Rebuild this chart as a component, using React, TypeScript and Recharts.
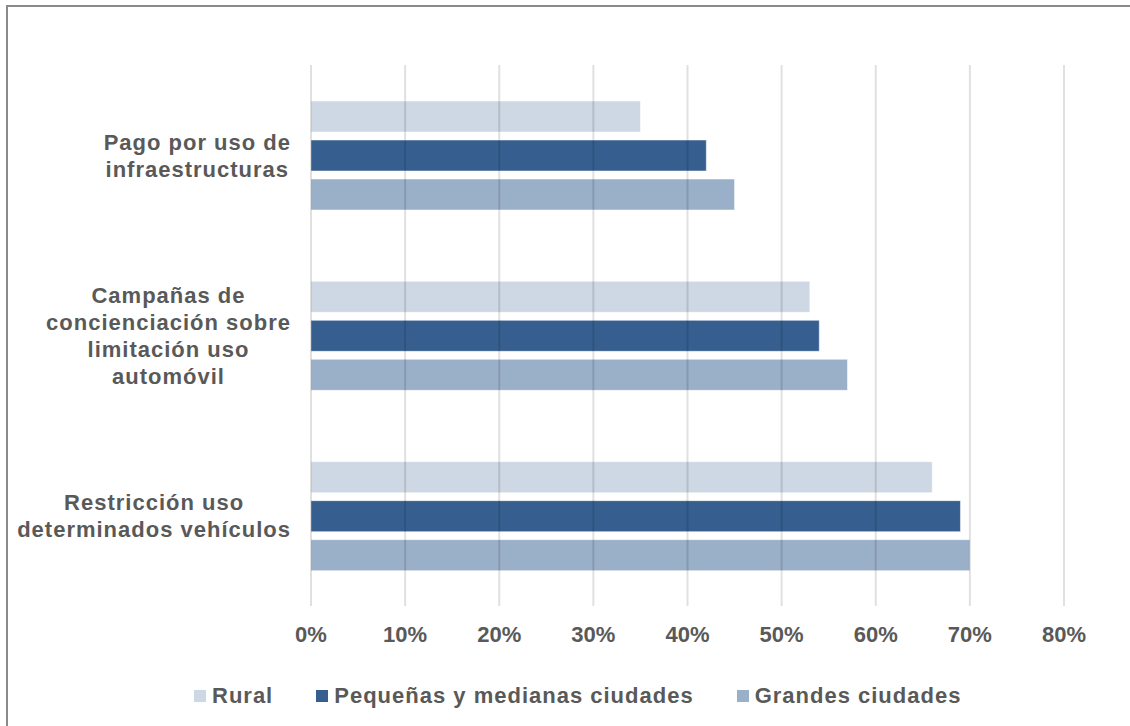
import { BarChart, Bar, XAxis, YAxis, CartesianGrid, Legend } from 'recharts'

// ─── data ─────────────────────────────────────────────────────────────────

const CATEGORIES = [
  ['Pago por uso de', 'infraestructuras'],
  ['Campañas de', 'concienciación sobre', 'limitación uso', 'automóvil'],
  ['Restricción uso', 'determinados vehículos'],
]
const RURAL     = [35, 53, 66]
const PEQUENAS  = [42, 54, 69]
const GRANDES   = [45, 57, 70]
const X_TICKS   = [0, 10, 20, 30, 40, 50, 60, 70, 80]

const SERIES = [
  { key: 'rural',    name: 'Rural',                        color: '#cdd8e4' },
  { key: 'pequenas', name: 'Pequeñas y medianas ciudades', color: '#365f8f' },
  { key: 'grandes',  name: 'Grandes ciudades',             color: '#9aafc8' },
]

const chartData = CATEGORIES.map((lines, i) => ({
  cat: lines.join(' '),
  rural: RURAL[i],
  pequenas: PEQUENAS[i],
  grandes: GRANDES[i],
}))

// ─── style ────────────────────────────────────────────────────────────────

const FONT        = "'Liberation Sans', Arial, sans-serif"
const FONT_SIZE   = 22
const SPACING     = 1
const TEXT        = '#595959'
const LINE_H      = 27
const LABEL_RIGHT = 291

let ctx: CanvasRenderingContext2D | null = null
function textWidth(s: string): number {
  if (!ctx) ctx = document.createElement('canvas').getContext('2d')
  const base = ctx ? (ctx.font = `bold ${FONT_SIZE}px ${FONT}`, ctx.measureText(s).width) : s.length * FONT_SIZE * 0.6
  return base + SPACING * s.length
}

// ─── ticks / legend ───────────────────────────────────────────────────────

function CategoryTick({ y, index }: any) {
  const lines = CATEGORIES[index] ?? []
  const w = Math.max(...lines.map(textWidth))
  const cx = LABEL_RIGHT - w / 2
  const top = y - ((lines.length - 1) * LINE_H) / 2
  return (
    <text x={cx} y={top} textAnchor="middle" fill={TEXT} fontFamily={FONT} fontSize={FONT_SIZE}
      fontWeight="bold" letterSpacing={SPACING}>
      {lines.map((l, i) => (
        <tspan key={i} x={cx} y={top + i * LINE_H} dy="0.36em">{l}</tspan>
      ))}
    </text>
  )
}

function LegendContent() {
  return (
    <div style={{ display: 'flex', alignItems: 'center', fontFamily: FONT, fontSize: FONT_SIZE, fontWeight: 'bold',
      color: TEXT, letterSpacing: SPACING, whiteSpace: 'nowrap' }}>
      {SERIES.map((s, i) => (
        <div key={s.key} style={{ display: 'flex', alignItems: 'center', marginRight: i < SERIES.length - 1 ? 43 : 0 }}>
          <span style={{ width: 12, height: 12, background: s.color, marginRight: 6, display: 'inline-block' }} />
          <span>{s.name}</span>
        </div>
      ))}
    </div>
  )
}

// ─── component ────────────────────────────────────────────────────────────

export default function App() {
  return (
    <div style={{ position: 'fixed', left: 0, top: 0, width: 1130, height: 726, overflow: 'hidden', background: '#fff' }}>
      <div style={{ position: 'absolute', left: 6, top: 5, width: 1140, height: 740,
        borderLeft: '2px solid #8a8a8a', borderTop: '2px solid #8a8a8a', boxSizing: 'border-box' }} />
      <div style={{ position: 'absolute', left: 0, top: 0 }}>
        <BarChart
          width={1130}
          height={726}
          data={chartData}
          layout="vertical"
          margin={{ top: 65, right: 66, left: 11, bottom: 90 }}
          barSize={31}
          barGap={8}
        >
          <XAxis
            type="number"
            domain={[0, 80]}
            ticks={X_TICKS}
            tickFormatter={(v: number) => `${v}%`}
            axisLine={false}
            tickLine={false}
            tickMargin={14}
            height={30}
            tick={{ fill: TEXT, fontSize: FONT_SIZE, fontFamily: FONT, fontWeight: 'bold' }}
          />
          <YAxis
            type="category"
            dataKey="cat"
            width={300}
            axisLine={false}
            tickLine={false}
            tick={<CategoryTick />}
          />
          {SERIES.map(s => (
            <Bar
              key={s.key}
              dataKey={s.key}
              name={s.name}
              fill={s.color}
              stroke="#ffffff"
              strokeOpacity={0.5}
              strokeWidth={1}
              isAnimationActive={false}
            />
          ))}
          <CartesianGrid horizontal={false} stroke="rgba(0,0,0,0.12)" strokeWidth={2} zIndex={1000} />
          <Legend
            verticalAlign="middle"
            content={<LegendContent />}
            wrapperStyle={{ position: 'absolute', left: 194, top: 683, width: 'auto', height: 'auto' }}
          />
        </BarChart>
      </div>
    </div>
  )
}
